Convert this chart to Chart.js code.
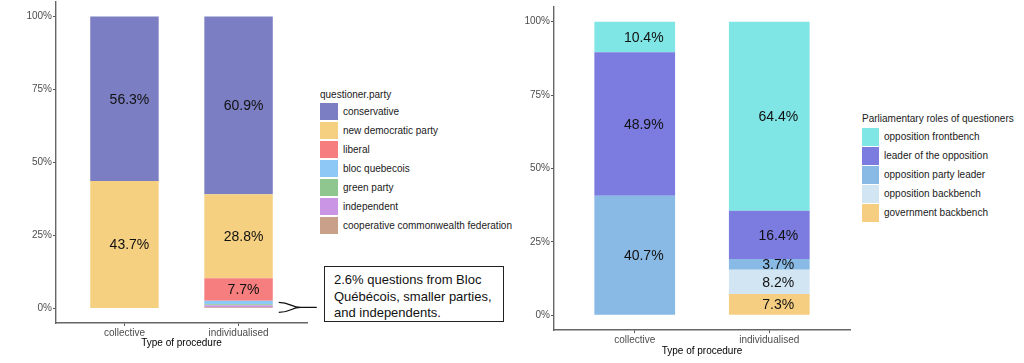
<!DOCTYPE html>
<html>
<head>
<meta charset="utf-8">
<script src="https://cdn.jsdelivr.net/npm/chart.js@4.4.1/dist/chart.umd.min.js"></script>
<style>
  body { margin: 0; background: #fff; width: 1024px; height: 363px; position: relative; overflow: hidden;
         font-family: "Liberation Sans", Arial, sans-serif; }
  canvas { position: absolute; top: 0; }
  .legend { position: absolute; font-size: 10px; color: #1a1a1a; }
  .legend .ttl { position: absolute; white-space: nowrap; line-height: 12px; }
  .legend .key { position: absolute; }
  .legend .lbl { position: absolute; white-space: nowrap; line-height: 12px; }
  #note { position: absolute; left: 324px; top: 266px; width: 180px; height: 56px; box-sizing: border-box;
          border: 1.5px solid #222; padding: 5px 0 0 9px; font-size: 13px; line-height: 16.5px; color: #111; }
</style>
</head>
<body>
<canvas id="left" width="320" height="363" style="left:0"></canvas>
<canvas id="right" width="340" height="363" style="left:520px"></canvas>
<div id="note"></div>
<div id="legLeft" class="legend"></div>
<div id="legRight" class="legend"></div>
<script>
// categories
const procedures = ['collective', 'individualised'];

// left chart: questioner party (legend order = top of stack first)
const parties = ['conservative', 'new democratic party', 'liberal', 'bloc quebecois',
                 'green party', 'independent', 'cooperative commonwealth federation'];
const conservative = [56.3, 60.9];
const newDemocratic = [43.7, 28.8];
const liberal = [0, 7.7];
const blocQuebecois = [0, 1.2];
const greenParty = [0, 0.3];
const independent = [0, 0.7];
const ccf = [0, 0.4];
const partyColors = ['#7b7ec2', '#f5d081', '#f67e7e', '#8ec8f6', '#8fc68f', '#c995e4', '#c9a08a'];

// right chart: parliamentary roles
const roles = ['opposition frontbench', 'leader of the opposition', 'opposition party leader',
               'opposition backbench', 'government backbench'];
const oppFrontbench = [10.4, 64.4];
const leaderOpposition = [48.9, 16.4];
const oppPartyLeader = [40.7, 3.7];
const oppBackbench = [0, 8.2];
const govBackbench = [0, 7.3];
const roleColors = ['#7fe5e5', '#7b7be0', '#89b9e5', '#d2e5f3', '#f6ce81'];

const yTicks = [0, 25, 50, 75, 100];

const FONT = '"Liberation Sans", Arial, sans-serif';

// draws the percentage labels in the middle of each segment
const segLabels = {
  id: 'segLabels',
  afterDatasetsDraw(chart, args, opts) {
    const ctx = chart.ctx;
    ctx.save();
    ctx.font = '14px ' + FONT;
    ctx.fillStyle = '#111';
    ctx.textAlign = 'center';
    ctx.textBaseline = 'middle';
    chart.data.datasets.forEach((ds, i) => {
      chart.getDatasetMeta(i).data.forEach((el, j) => {
        const v = ds.data[j].y;
        if (v < 3) return;
        ctx.fillText(v.toFixed(1) + '%', el.x + opts.nudge, (el.y + el.base) / 2 + 1);
      });
    });
    ctx.restore();
  }
};

// curly bracket pointing from the small parties to the note box
const bracket = {
  id: 'bracket',
  afterDraw(chart) {
    if (!chart.options.plugins.bracket.show) return;
    const ctx = chart.ctx;
    const el = chart.getDatasetMeta(0).data[1];
    const x0 = el.x + el.width / 2 + 6;
    const yc = chart.scales.y.getPixelForValue(0) - 1;
    ctx.save();
    ctx.strokeStyle = '#111';
    ctx.lineWidth = 1.3;
    ctx.beginPath();
    ctx.moveTo(x0, yc - 5);
    ctx.bezierCurveTo(x0 + 12, yc - 5, x0 + 12, yc, x0 + 22, yc);
    ctx.lineTo(x0 + 38, yc);
    ctx.moveTo(x0, yc + 5);
    ctx.bezierCurveTo(x0 + 12, yc + 5, x0 + 12, yc, x0 + 22, yc);
    ctx.stroke();
    ctx.restore();
  }
};

function makeChart(id, names, series, colors, box) {
  // Chart.js stacks the first dataset at the bottom, ggplot the first level on top
  const datasets = names.map((n, k) => ({
    label: n,
    data: series[k].map((v, i) => ({ x: i + 1, y: v })),
    backgroundColor: colors[k],
    borderWidth: 0,
    barPercentage: 0.6,
    categoryPercentage: 1
  })).reverse();

  return new Chart(document.getElementById(id), {
    type: 'bar',
    data: { datasets },
    plugins: [segLabels, bracket],
    options: {
      responsive: false,
      animation: false,
      layout: { padding: { top: box.top, right: box.right, left: 0, bottom: 0 } },
      plugins: {
        legend: { display: false },
        tooltip: { enabled: false },
        segLabels: { nudge: box.nudge },
        bracket: { show: box.bracket }
      },
      scales: {
        x: {
          type: 'linear',
          stacked: true,
          offset: false,
          min: 0.4,
          max: procedures.length + 0.6,
          afterBuildTicks: s => { s.ticks = procedures.map((c, i) => ({ value: i + 1 })); },
          afterFit: s => { s.height = box.xHeight; s.paddingLeft = 0; s.paddingRight = 0; },
          ticks: {
            autoSkip: false,
            maxRotation: 0,
            padding: 1,
            color: '#4d4d4d',
            font: { family: FONT, size: 10 },
            callback: v => procedures[v - 1]
          },
          grid: { display: true, drawOnChartArea: false, drawTicks: true, tickLength: 3, color: '#555', offset: false },
          border: { display: true, color: '#666', width: 1.4 },
          title: {
            display: true,
            text: 'Type of procedure',
            color: '#000',
            font: { family: FONT, size: 10 },
            padding: { top: 0, bottom: box.titlePad }
          }
        },
        y: {
          stacked: true,
          min: -5,
          max: 105,
          afterBuildTicks: s => { s.ticks = yTicks.map(v => ({ value: v })); },
          afterFit: s => { s.width = box.yWidth; s.paddingTop = 0; s.paddingBottom = 0; },
          ticks: {
            padding: 1,
            color: '#4d4d4d',
            font: { family: FONT, size: 10 },
            callback: v => v + '%'
          },
          grid: { display: true, drawOnChartArea: false, drawTicks: true, tickLength: 3, color: '#555' },
          border: { display: true, color: '#666', width: 1.4 }
        }
      }
    }
  });
}

makeChart('left', parties,
  [conservative, newDemocratic, liberal, blocQuebecois, greenParty, independent, ccf],
  partyColors,
  { top: 2, right: 13, xHeight: 40, yWidth: 56, titlePad: 14, nudge: 5, bracket: true });

makeChart('right', roles,
  [oppFrontbench, leaderOpposition, oppPartyLeader, oppBackbench, govBackbench],
  roleColors,
  { top: 7, right: 10, xHeight: 33, yWidth: 34, titlePad: 6, nudge: 9, bracket: false });

// note box, share of the small parties in individualised procedures
const smallShare = blocQuebecois[1] + greenParty[1] + independent[1] + ccf[1];
document.getElementById('note').innerHTML =
  smallShare.toFixed(1) + '% questions from Bloc<br>Québécois, smaller parties,<br>and independents.';

function buildLegend(elId, title, names, colors, g) {
  const el = document.getElementById(elId);
  let html = `<div class="ttl" style="left:${g.x}px;top:${g.titleTop}px">${title}</div>`;
  names.forEach((n, i) => {
    const top = g.keyTop + i * 19;
    html += `<div class="key" style="left:${g.x}px;top:${top}px;width:${g.kw}px;height:${g.kh}px;background:${colors[i]}"></div>`;
    html += `<div class="lbl" style="left:${g.x + g.kw + 5}px;top:${top + g.kh / 2 - 6}px">${n}</div>`;
  });
  el.innerHTML = html;
}

buildLegend('legLeft', 'questioner.party', parties, partyColors,
  { x: 320, titleTop: 89, keyTop: 103, kw: 18, kh: 17 });
buildLegend('legRight', 'Parliamentary roles of questioners', roles, roleColors,
  { x: 862, titleTop: 113, keyTop: 128, kw: 17, kh: 18 });
</script>
</body>
</html>
